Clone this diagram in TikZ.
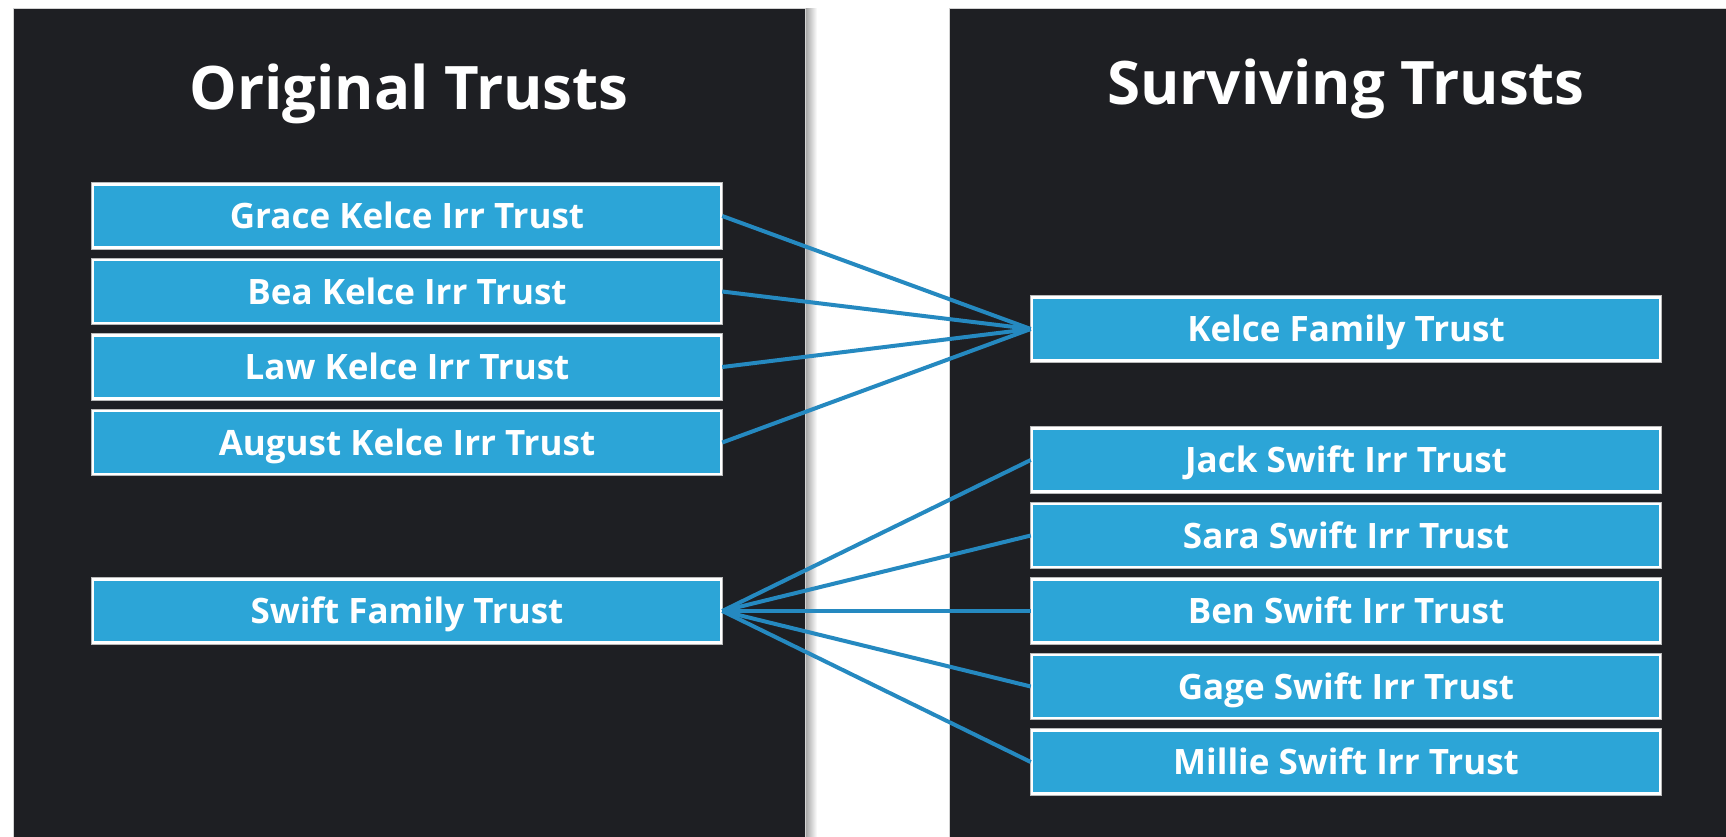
\documentclass[tikz,border=0pt]{standalone}
\usepackage{fontspec}
\setmainfont{Open Sans}
\definecolor{panelbg}{HTML}{1E1F23}
\definecolor{boxfill}{HTML}{2CA5D7}
\definecolor{linkcol}{HTML}{2589C0}
\begin{document}
\begin{tikzpicture}[x=1pt,y=-1pt,
  panel/.style={fill=panelbg, draw=gray!35, line width=1pt},
  trust/.style={preaction={draw=gray!55,line width=4.5pt}, fill=boxfill, draw=white, line width=2.5pt,
    minimum width=628pt, minimum height=63pt, inner sep=0pt, text=white,
    text height=25pt, text depth=0pt, font=\bfseries\fontsize{35}{42}\selectfont},
  heading/.style={text=white, font=\bfseries\fontsize{60}{72}\selectfont, anchor=base, inner sep=0pt},
  link/.style={draw=linkcol, line width=4pt}]
\useasboundingbox (0,0) rectangle (1726,836);
\fill[white] (0,0) rectangle (1726,836);
\shade[left color=gray!75, right color=white] (805,8) rectangle (817,836);
\draw[panel] (13,8) rectangle (805,845);
\draw[panel] (949,8) rectangle (1745,845);

\node[heading] (t1) at (409,109) {Original Trusts};
\node[heading] (t2) at (1346,104) {Surviving Trusts};

\node[trust] (grace) at (407,216) {Grace Kelce Irr Trust};
\node[trust] (bea) at (407,291.5) {Bea Kelce Irr Trust};
\node[trust] (law) at (407,367) {Law Kelce Irr Trust};
\node[trust] (august) at (407,442.5) {August Kelce Irr Trust};
\node[trust] (swift) at (407,611) {Swift Family Trust};

\node[trust] (kelce) at (1346,329) {Kelce Family Trust};
\node[trust] (jack) at (1346,460) {Jack Swift Irr Trust};
\node[trust] (sara) at (1346,535.5) {Sara Swift Irr Trust};
\node[trust] (ben) at (1346,611) {Ben Swift Irr Trust};
\node[trust] (gage) at (1346,686.5) {Gage Swift Irr Trust};
\node[trust] (millie) at (1346,762) {Millie Swift Irr Trust};

\foreach \s in {grace,bea,law,august}
  \draw[link] (\s.east) -- (kelce.west);
\foreach \t in {jack,sara,ben,gage,millie}
  \draw[link] (swift.east) -- (\t.west);
\end{tikzpicture}
\end{document}
